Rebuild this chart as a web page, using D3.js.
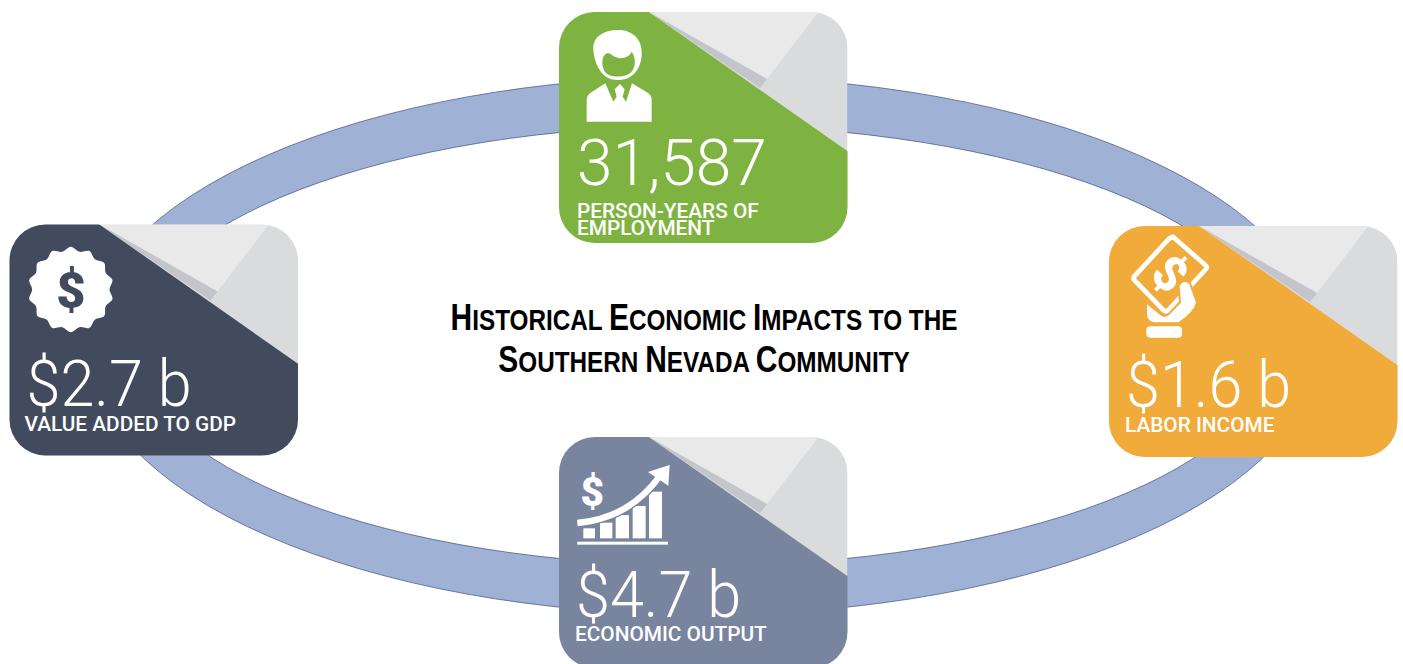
<!DOCTYPE html>
<html>
<head>
<meta charset="utf-8">
<script src="https://cdn.jsdelivr.net/npm/d3@7/dist/d3.min.js"></script>
<style>
html,body{margin:0;padding:0;background:#fff;overflow:hidden}
svg{display:block}
</style>
</head>
<body>
<svg id="chart" width="1403" height="664"></svg>
<script>
// Headline figures, one entry per card
const cardKeys = ["employment", "income", "gdp", "output"];
const cardValues = ["31,587", "$1.6 b", "$2.7 b", "$4.7 b"];
const cardLabels = [["PERSON-YEARS OF", "EMPLOYMENT"], ["LABOR INCOME"], ["VALUE ADDED TO GDP"], ["ECONOMIC OUTPUT"]];
const cardColors = ["#7FB341", "#F0AB3A", "#424B5E", "#79859F"];
const titleLines = [
  [["H", 1], ["ISTORICAL ", 0], ["E", 1], ["CONOMIC ", 0], ["I", 1], ["MPACTS TO THE", 0]],
  [["S", 1], ["OUTHERN ", 0], ["N", 1], ["EVADA ", 0], ["C", 1], ["OMMUNITY", 0]]
];

// Layout
const W = 1403, H = 664, CARD_W = 288.5, CARD_H = 231, CARD_R = 36;
const cardOrigin = {employment: [559, 12], income: [1109, 226], gdp: [9.5, 224.5], output: [559, 437]};
const textLayout = {
  employment: {valueX: 18, valueY: 173, valueScale: 1, labelX: 18, labelY: [206, 223]},
  income: {valueX: 17, valueY: 181, valueScale: 0.955, labelX: 16, labelY: [206]},
  gdp: {valueX: 17, valueY: 181, valueScale: 0.955, labelX: 15, labelY: [206]},
  output: {valueX: 17, valueY: 180, valueScale: 0.955, labelX: 16, labelY: [204]}
};

const svg = d3.select("#chart");

// Ring behind the cards: two concentric ellipses cut with even-odd fill
function ellipsePath(cx, cy, rx, ry) {
  return `M${cx - rx},${cy}A${rx},${ry} 0 1,0 ${cx + rx},${cy}A${rx},${ry} 0 1,0 ${cx - rx},${cy}Z`;
}
svg.append("path")
  .attr("d", ellipsePath(703, 345.5, 616, 269) + ellipsePath(703, 345.5, 571, 220))
  .attr("fill", "#9FB1D5")
  .attr("fill-rule", "evenodd")
  .attr("stroke", "#3E4F7E")
  .attr("stroke-width", 0.7);

// Cards
const cards = svg.selectAll("g.card")
  .data(cardKeys.map((key, i) => ({key, value: cardValues[i], label: cardLabels[i], color: cardColors[i]})))
  .join("g")
  .attr("class", "card")
  .attr("transform", d => `translate(${cardOrigin[d.key]})`);

const defs = svg.append("defs");
defs.append("clipPath").attr("id", "cardClip")
  .append("rect").attr("width", CARD_W).attr("height", CARD_H).attr("rx", CARD_R).attr("ry", CARD_R);

const cardBody = cards.append("g").attr("clip-path", "url(#cardClip)");
cardBody.append("rect").attr("width", CARD_W).attr("height", CARD_H).attr("fill", "#DADBDC");

// Folded corner facets, then the coloured face laid over them
const facets = [
  {fill: "#E9E9EA", pts: [[85, -2], [261, -2], [208, 67]]},
  {fill: "#C3C5CB", pts: [[90, 0], [208, 67], [201, 76]]}
];
facets.forEach(f => {
  cardBody.append("polygon")
    .attr("points", f.pts.map(p => p.join(",")).join(" "))
    .attr("fill", f.fill);
});
cardBody.append("polygon")
  .attr("points", "-2,-2 87,-2 291,141 291,233 -2,233")
  .attr("fill", d => d.color);

// Values and captions
cards.append("text")
  .attr("transform", d => {
    const t = textLayout[d.key];
    return `translate(${t.valueX},${t.valueY}) scale(${t.valueScale},1)`;
  })
  .attr("font-family", "Roboto, sans-serif")
  .attr("font-weight", 300)
  .attr("font-size", 64)
  .attr("fill", "#fff")
  .text(d => d.value);

cards.each(function(d) {
  const g = d3.select(this);
  d.label.forEach((line, i) => {
    g.append("text")
      .attr("x", textLayout[d.key].labelX)
      .attr("y", textLayout[d.key].labelY[i])
      .attr("font-family", "Roboto, sans-serif")
      .attr("font-weight", 500)
      .attr("font-size", 20.8)
      .attr("fill", "#fff")
      .text(line);
  });
});

// Icons, drawn at triple scale and shrunk into each card
function iconGroup(key, ox, oy) {
  return cards.filter(d => d.key === key).append("g")
    .attr("transform", `translate(${-ox},${-oy}) scale(${1 / 3})`);
}

// Person in a suit
(function() {
  const c = cardColors[0];
  const g = iconGroup("employment", 9, 12);
  g.append("path").attr("fill", "#fff")
    .attr("d", "M130 150C126 112 160 90 205 90C252 90 278 122 275 165C272 215 240 242 202 240C160 240 134 200 130 150Z");
  g.append("path").attr("fill", c)
    .attr("d", "M158 178C163 158 176 156 186 165C205 181 236 176 245 155C256 170 259 196 246 214C232 233 180 236 165 216C158 206 155 192 158 178Z");
  g.append("path").attr("fill", "#fff")
    .attr("d", "M166 250L122 278Q110 286 110 300L110 365L305 365L305 300Q305 286 293 278L246 250L228 305L218 290L224 268L210 252L194 268L200 290L190 305Z");
})();

// Hand holding a banknote
(function() {
  const c = cardColors[1];
  const g = iconGroup("income", 9, 11);
  g.append("path").attr("fill", "none").attr("stroke", "#fff").attr("stroke-width", 14).attr("stroke-linejoin", "round")
    .attr("d", "M214 68Q218 64 222 68L318 152Q323 157 318 162L205 285Q198 292 191 286L104 196Q98 190 103 184L208 70Z");
  g.append("text").attr("transform", "translate(176,213) rotate(42)")
    .attr("text-anchor", "middle").attr("font-family", "Roboto, sans-serif").attr("font-weight", 900)
    .attr("font-size", 145).attr("fill", "#fff").text("$");
  g.append("path").attr("fill", "#fff").attr("stroke", c).attr("stroke-width", 6)
    .attr("d", "M138 262L185 300Q195 306 205 298L240 262L236 212Q250 188 270 205L291 262Q285 292 236 325L165 325Q142 325 138 300Z");
  g.append("rect").attr("x", 139).attr("y", 334).attr("width", 107).attr("height", 34).attr("rx", 12).attr("fill", "#fff");
})();

// Scalloped badge with a dollar sign
(function() {
  const c = cardColors[2];
  const g = iconGroup("gdp", 9, 9);
  const scallop = d3.range(28).map(i => [i * Math.PI / 14, i % 2 ? 116 : 128]);
  g.append("path").attr("fill", "#fff").attr("transform", "translate(211,222)")
    .attr("d", d3.lineRadial().curve(d3.curveCardinalClosed)(scallop));
  g.append("text").attr("x", 211).attr("y", 276).attr("text-anchor", "middle")
    .attr("font-family", "Roboto, sans-serif").attr("font-weight", 900).attr("font-size", 152)
    .attr("fill", c).text("$");
})();

// Rising bars with a growth arrow
(function() {
  const c = cardColors[3];
  const g = iconGroup("output", 9, 7);
  g.append("text").attr("x", 127).attr("y", 228).attr("text-anchor", "middle")
    .attr("font-family", "Roboto, sans-serif").attr("font-weight", 900).attr("font-size", 122)
    .attr("fill", "#fff").text("$");
  [[100, 35, 295], [150, 37, 278], [197, 40, 255], [248, 39, 228], [297, 39, 185]].forEach(b => {
    g.append("rect").attr("x", b[0]).attr("y", b[2]).attr("width", b[1]).attr("height", 325 - b[2]).attr("fill", "#fff");
  });
  g.append("rect").attr("x", 82).attr("y", 335).attr("width", 272).attr("height", 9).attr("fill", "#fff");
  const curve = "M82 279C180 270 270 225 335 130";
  g.append("path").attr("d", curve).attr("fill", "none").attr("stroke", c).attr("stroke-width", 27);
  g.append("path").attr("d", curve).attr("fill", "none").attr("stroke", "#fff").attr("stroke-width", 19);
  g.append("path").attr("d", "M294 126L359 105L355 167Z").attr("fill", "#fff");
})();

// Centred title in drawn small caps, condensed horizontally
const title = svg.append("text")
  .attr("transform", "translate(704,0) scale(0.81,1)")
  .attr("text-anchor", "middle")
  .attr("font-family", "'Liberation Sans', Arial, sans-serif")
  .attr("font-weight", 700)
  .attr("fill", "#000");
titleLines.forEach((line, i) => {
  const row = title.append("tspan").attr("x", 0).attr("y", i === 0 ? 330 : 372);
  line.forEach(run => {
    row.append("tspan").attr("font-size", run[1] ? 37 : 30).text(run[0]);
  });
});
</script>
</body>
</html>
